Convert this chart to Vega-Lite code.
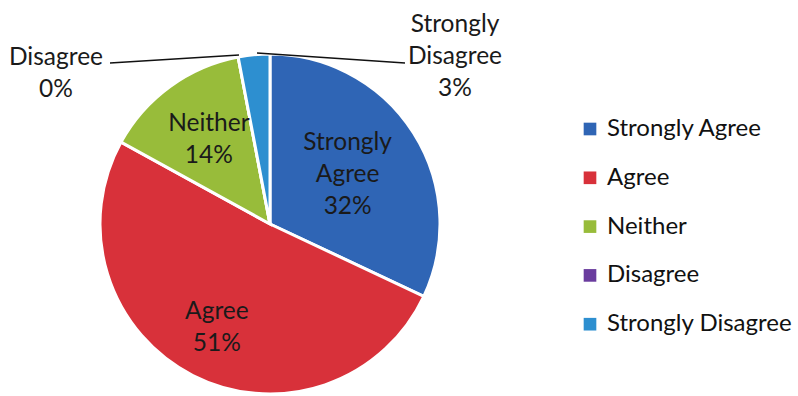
{
  "$schema": "https://vega.github.io/schema/vega-lite/v6.json",
  "width": 540,
  "height": 448,
  "padding": {"left": 0, "top": 0, "right": 258, "bottom": 0},
  "autosize": {"type": "none"},
  "background": "white",
  "config": {"view": {"stroke": null}, "font": "Lato"},
  "datasets": {
    "slices": [
      {"rank": 1, "category": "Strongly Agree", "value": 32, "label": ["Strongly", "Agree", "32%"]},
      {"rank": 2, "category": "Agree", "value": 51, "label": ["Agree", "51%"]},
      {"rank": 3, "category": "Neither", "value": 14, "label": ["Neither", "14%"]},
      {"rank": 4, "category": "Disagree", "value": 0, "label": ["Disagree", "0%"]},
      {"rank": 5, "category": "Strongly Disagree", "value": 3, "label": ["Strongly", "Disagree", "3%"]}
    ],
    "callouts": [
      {"category": "Disagree", "label": ["Disagree", "0%"], "lx": -214, "ly": 166, "ax": -160, "ay": 161, "bx": -31, "by": 169},
      {"category": "Strongly Disagree", "label": ["Strongly", "Disagree", "3%"], "lx": 185, "ly": 199, "ax": -13, "ay": 171, "bx": 135, "by": 161}
    ]
  },
  "layer": [
    {
      "data": {"name": "slices"},
      "mark": {"type": "arc", "outerRadius": 170, "stroke": "white", "strokeWidth": 3},
      "encoding": {
        "theta": {"field": "value", "type": "quantitative", "stack": true},
        "order": {"field": "rank", "type": "quantitative"},
        "color": {
          "field": "category",
          "type": "nominal",
          "sort": ["Strongly Agree", "Agree", "Neither", "Disagree", "Strongly Disagree"],
          "scale": {
            "domain": ["Strongly Agree", "Agree", "Neither", "Disagree", "Strongly Disagree"],
            "range": ["#2F65B5", "#D8313A", "#98BC3A", "#6A3C9E", "#2D8FD0"]
          },
          "legend": {
            "title": null,
            "orient": "none",
            "legendX": 578,
            "legendY": 117,
            "padding": 0,
            "symbolType": "square",
            "symbolSize": 160,
            "symbolStrokeWidth": 0,
            "labelFont": "Lato",
            "labelFontSize": 24,
            "labelColor": "#111111",
            "labelOffset": 5,
            "rowPadding": 24.8,
            "labelLimit": 300
          }
        }
      }
    },
    {
      "data": {"name": "slices"},
      "mark": {"type": "text", "radius": 92, "dy": -32, "fontSize": 24.5, "lineHeight": 32, "color": "#1a1a1a", "font": "Lato"},
      "encoding": {
        "theta": {"field": "value", "type": "quantitative", "stack": true},
        "order": {"field": "rank", "type": "quantitative"},
        "text": {"condition": {"test": "datum.category === 'Strongly Agree'", "field": "label"}, "value": ""}
      }
    },
    {
      "data": {"name": "slices"},
      "mark": {"type": "text", "radius": 117, "dy": -16, "fontSize": 24.5, "lineHeight": 32, "color": "#1a1a1a", "font": "Lato"},
      "encoding": {
        "theta": {"field": "value", "type": "quantitative", "stack": true},
        "order": {"field": "rank", "type": "quantitative"},
        "text": {"condition": {"test": "datum.category === 'Agree'", "field": "label"}, "value": ""}
      }
    },
    {
      "data": {"name": "slices"},
      "mark": {"type": "text", "radius": 104, "dy": -16, "fontSize": 24.5, "lineHeight": 32, "color": "#1a1a1a", "font": "Lato"},
      "encoding": {
        "theta": {"field": "value", "type": "quantitative", "stack": true},
        "order": {"field": "rank", "type": "quantitative"},
        "text": {"condition": {"test": "datum.category === 'Neither'", "field": "label"}, "value": ""}
      }
    },
    {
      "data": {"name": "callouts"},
      "mark": {"type": "rule", "color": "#111111", "strokeWidth": 1.5},
      "encoding": {
        "x": {"field": "ax", "type": "quantitative", "scale": {"domain": [-270, 270]}, "axis": null},
        "y": {"field": "ay", "type": "quantitative", "scale": {"domain": [-224, 224]}, "axis": null},
        "x2": {"field": "bx"},
        "y2": {"field": "by"}
      }
    },
    {
      "data": {"name": "callouts"},
      "mark": {"type": "text", "fontSize": 24.5, "lineHeight": 32, "color": "#1a1a1a", "font": "Lato"},
      "encoding": {
        "x": {"field": "lx", "type": "quantitative", "scale": {"domain": [-270, 270]}, "axis": null},
        "y": {"field": "ly", "type": "quantitative", "scale": {"domain": [-224, 224]}, "axis": null},
        "text": {"field": "label"}
      }
    }
  ]
}
